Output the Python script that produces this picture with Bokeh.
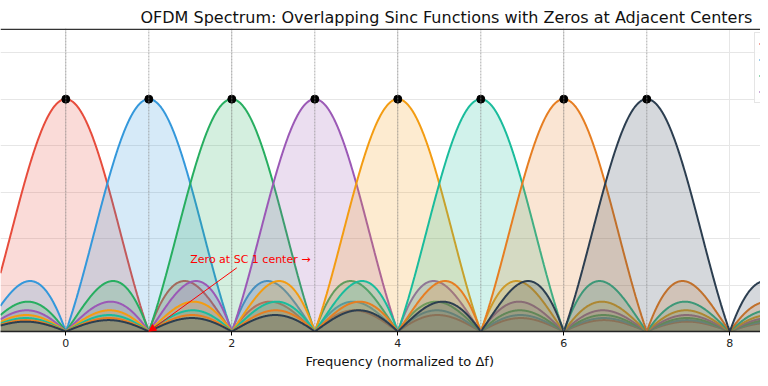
import numpy as np
from bokeh.plotting import figure
from bokeh.models import (Range1d, Legend, LegendItem, Label, Arrow, NormalHead,
                          FixedTicker, Title, Span)
from bokeh.embed import file_html
from bokeh.resources import INLINE

# Subcarrier centres (normalized frequency) and their colours
centers = [0, 1, 2, 3, 4, 5, 6, 7]
names = ["SC 0", "SC 1", "SC 2", "SC 3", "SC 4", "SC 5", "SC 6", "SC 7"]
colors = ["#e74c3c", "#3498db", "#27ae60", "#9b59b6",
          "#f39c12", "#1abc9c", "#e67e22", "#2c3e50"]
peak_values = [1, 1, 1, 1, 1, 1, 1, 1]
x_ticks = [0, 2, 4, 6, 8]
y_grid = [0.2, 0.4, 0.6, 0.8, 1.0, 1.2]

FONT = "DejaVu Sans"
X0, X1 = -0.787, 8.37
Y0, Y1 = 0.0, 1.304

p = figure(width=760, height=378, output_backend="svg", toolbar_location=None,
           x_range=Range1d(X0, X1), y_range=Range1d(Y0, Y1),
           min_border_left=0, min_border_right=0, min_border_top=28, min_border_bottom=47)
p.title = Title(text="OFDM Spectrum: Overlapping Sinc Functions with Zeros at Adjacent Centers",
                align="left", offset=140, text_font=FONT, text_font_size="16px",
                text_font_style="normal", text_color="#111111", standoff=3)

freq = np.linspace(X0, X1, 2000)
renderers = []
for c, col, pk in zip(centers, colors, peak_values):
    y = pk * np.abs(np.sinc(freq - c))
    p.varea(x=freq, y1=0, y2=y, fill_color=col, fill_alpha=0.2)
    r = p.line(freq, y, line_color=col, line_width=2)
    renderers.append(r)

for c in centers:
    p.add_layout(Span(location=c, dimension="height", line_color="#888888", line_alpha=0.7,
                      line_dash="2 1", line_width=1))

p.scatter(centers, peak_values, size=8, color="black")

# top spine
p.add_layout(Span(location=Y1 - 0.003, dimension="width", line_color="#333333", line_width=1.5))

# annotation
p.add_layout(Arrow(end=NormalHead(size=7, fill_color="red", line_color="red"),
                   x_start=2.06, y_start=0.274, x_end=1.0, y_end=0.0,
                   line_color="red", line_width=1))
p.add_layout(Label(x=1.5, y=0.312, text="Zero at SC 1 center →", text_color="red",
                   text_font=FONT, text_font_size="11px", text_baseline="middle"))

legend = Legend(items=[LegendItem(label=n, renderers=[r]) for n, r in zip(names[:4], renderers[:4])],
                location=(754, 228), label_text_font=FONT, label_text_font_size="11px",
                border_line_color="#cccccc", border_line_width=1.5, background_fill_alpha=0.9,
                glyph_height=13, label_height=13, spacing=3, padding=4, margin=0)
p.add_layout(legend)

p.xaxis.ticker = FixedTicker(ticks=x_ticks)
p.xaxis.major_label_text_font = FONT
p.xaxis.major_label_text_font_size = "11px"
p.xaxis.major_label_text_color = "#222222"
p.xaxis.major_label_standoff = 3
p.xaxis.minor_tick_line_color = None
p.xaxis.major_tick_out = 4
p.xaxis.major_tick_in = 0
p.xaxis.axis_line_color = "#222222"
p.xaxis.axis_line_width = 1.5
p.yaxis.visible = False

# x-axis title placed below the axis
p.add_layout(Title(text="Frequency (normalized to Δf)", align="left", offset=305,
                   text_font=FONT, text_font_size="13px", text_font_style="normal",
                   text_color="#111111", standoff=4), "below")

p.xgrid.ticker = FixedTicker(ticks=x_ticks)
p.ygrid.ticker = FixedTicker(ticks=y_grid)
p.grid.grid_line_color = "#e6e6e6"
p.grid.grid_line_width = 1
p.outline_line_color = None

open("out.html", "w").write(file_html(p, INLINE))
